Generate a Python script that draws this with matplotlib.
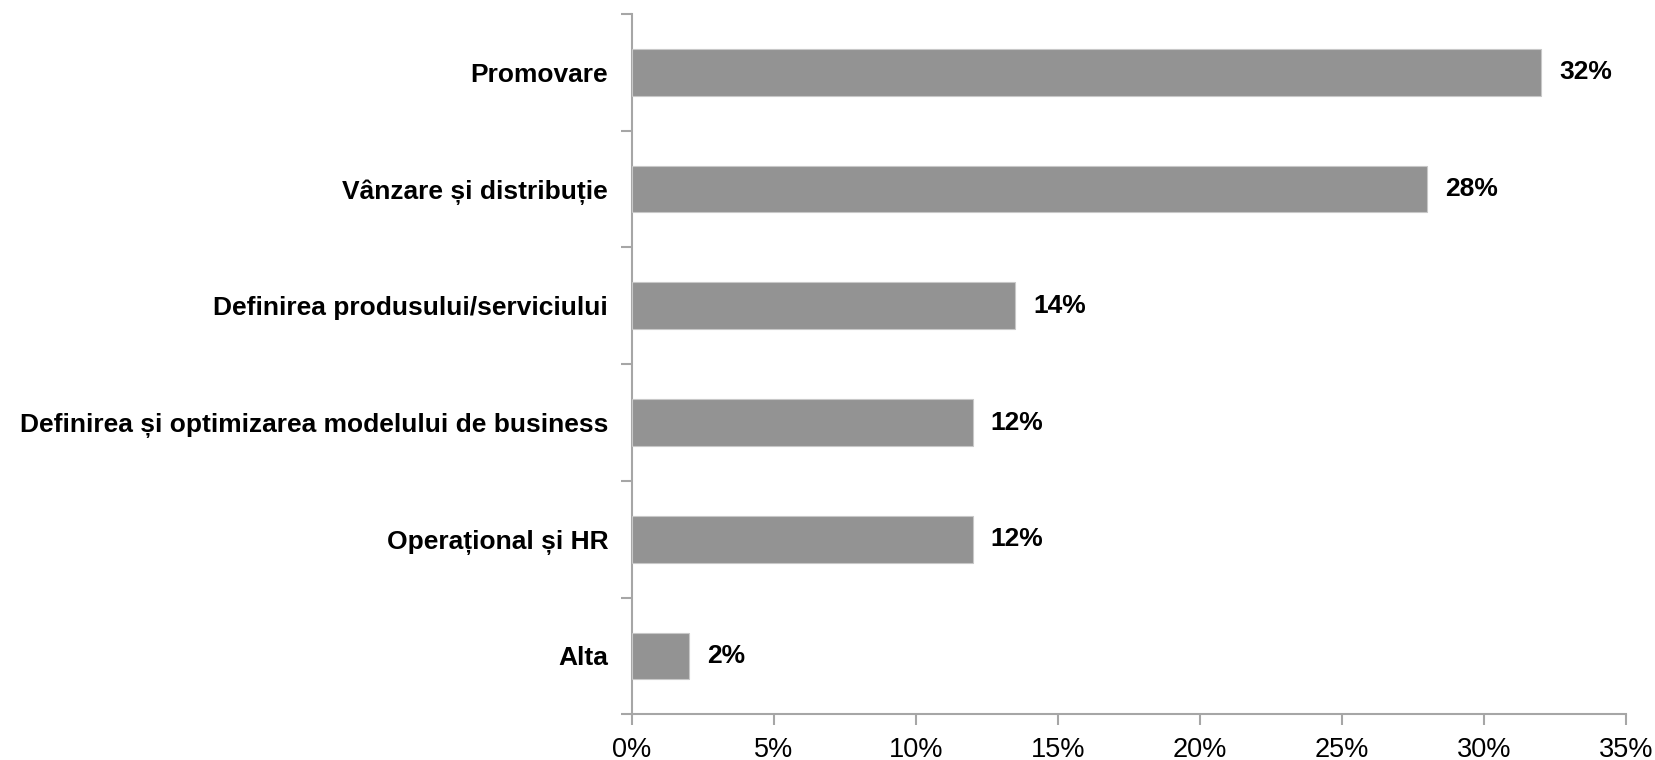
import matplotlib.pyplot as plt
from matplotlib.ticker import FuncFormatter

plt.rcParams['font.family'] = ['Liberation Sans', 'DejaVu Sans']

categories = ["Promovare", "Vânzare și distribuție", "Definirea produsului/serviciului",
              "Definirea și optimizarea modelului de business", "Operațional și HR", "Alta"]
values = [32.0, 28.0, 13.5, 12.0, 12.0, 2.0]
value_labels = ["32%", "28%", "14%", "12%", "12%", "2%"]
x_ticks = [0, 5, 10, 15, 20, 25, 30, 35]

axis_col = "#a6a6a6"
bar_col = "#939393"

fig = plt.figure(figsize=(16.56, 7.6), dpi=100)
ax = fig.add_axes([0.3815, 0.0601, 0.6004, 0.9215])

n = len(categories)
ypos = list(range(n))[::-1]
ax.barh(ypos, values, height=0.4, color=bar_col, edgecolor="#c8c8c8", linewidth=0.8, zorder=3)

for y, v, lab in zip(ypos, values, value_labels):
    ax.annotate(lab, (v, y), xytext=(13, 0), textcoords="offset points",
                va="center", ha="left", fontsize=19, fontweight="bold", color="black")

ax.set_xlim(0, 35)
ax.set_ylim(-0.5, n - 0.5)
ax.set_xticks(x_ticks)
ax.xaxis.set_major_formatter(FuncFormatter(lambda v, p: f"{v:.0f}%"))

# category boundaries as y ticks, labels as minor ticks
ax.set_yticks([i - 0.5 for i in range(n + 1)])
ax.set_yticklabels([])
ax.set_yticks(ypos, minor=True)
ax.set_yticklabels(categories, minor=True, fontsize=19, fontweight="bold")
ax.tick_params(axis="y", which="minor", length=0, pad=17)
ax.tick_params(axis="y", which="major", length=8, width=1.5, color=axis_col, direction="out")
ax.tick_params(axis="x", length=8, width=1.5, color=axis_col, direction="out",
               labelsize=19.5, pad=8)

for s in ["top", "right"]:
    ax.spines[s].set_visible(False)
for s in ["left", "bottom"]:
    ax.spines[s].set_color(axis_col)
    ax.spines[s].set_linewidth(1.5)

fig.savefig("out.png", dpi=100, facecolor="white")
